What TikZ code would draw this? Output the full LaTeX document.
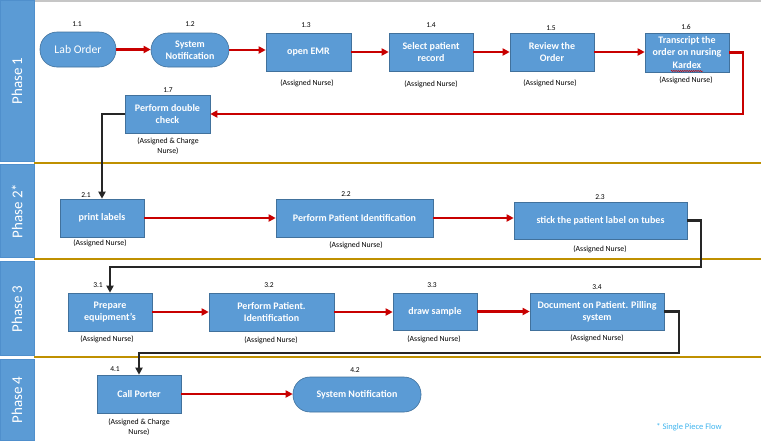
\documentclass[tikz,border=0pt]{standalone}
\usepackage{fontspec}
\setmainfont{Carlito}
\usetikzlibrary{arrows.meta,decorations.pathmorphing}
\definecolor{boxblue}{HTML}{5B9BD5}
\definecolor{boxedge}{HTML}{41719C}
\definecolor{hdredge}{HTML}{4F8FCC}
\definecolor{redline}{HTML}{C80000}
\definecolor{goldline}{HTML}{BF9000}
\definecolor{darkline}{HTML}{262626}
\definecolor{noteblue}{HTML}{3FB4EE}
\tikzset{
  procbox/.style={draw=boxedge, line width=0.6pt, fill=boxblue, text=white, align=center, inner sep=0pt,
    font=\bfseries\fontsize{10}{12}\selectfont},
  termbox/.style={procbox, rounded corners=17pt},
  numlbl/.style={font=\fontsize{7.5}{8}\selectfont, text=black, inner sep=0pt},
  rolelbl/.style={font=\fontsize{7.8}{10}\selectfont, text=black, align=center, inner sep=0pt},
  phasehdr/.style={fill=boxblue, draw=hdredge, line width=0.6pt},
  phasetxt/.style={rotate=90, text=white, font=\fontsize{15}{16}\selectfont, inner sep=0pt},
  lanesep/.style={draw=goldline, line width=2pt},
  redarr/.style={draw=redline, line width=2.2pt, -{Triangle[length=7pt,width=7pt]}},
  blkarr/.style={draw=darkline, line width=2.4pt, -{Triangle[length=7pt,width=7pt]}}
}
\begin{document}
\begin{tikzpicture}[x=1pt,y=-1pt]
\useasboundingbox (0,0) rectangle (761,440);
% lane headers
\draw[gray!45, line width=1.5pt] (34,0.75) -- (761,0.75);
\draw[phasehdr] (0,0) rectangle (34,161);
\draw[phasehdr] (0,164.5) rectangle (34,257.5);
\draw[phasehdr] (0,261) rectangle (34,355);
\draw[phasehdr] (0,359) rectangle (34,440);
\node[phasetxt] (p1) at (17,81) {Phase 1};
\node[phasetxt] (p2) at (17,211) {Phase 2*};
\node[phasetxt] (p3) at (17,309) {Phase 3};
\node[phasetxt] (p4) at (17,400) {Phase 4};
\draw[lanesep] (34,163) -- (761,163);
\draw[lanesep] (34,259) -- (761,259);
\draw[lanesep] (34,357) -- (761,357);

% Phase 1
\node[termbox, minimum width=76pt, minimum height=35pt, font=\fontsize{11.7}{13}\selectfont] (n11) at (78,49.5) {Lab Order};
\node[termbox, minimum width=78pt, minimum height=34pt] (n12) at (190,50) {System\\Notification};
\node[procbox, minimum width=85pt, minimum height=38pt] (n13) at (308.5,52) {open EMR};
\node[procbox, minimum width=84pt, minimum height=38pt] (n14) at (431,52) {Select patient\\record};
\node[procbox, minimum width=84pt, minimum height=38pt] (n15) at (552,52) {Review the\\Order};
\node[procbox, minimum width=84pt, minimum height=39pt, font=\bfseries\fontsize{10}{12.5}\selectfont] (n16) at (687,52.5) {Transcript the\\order on nursing\\Kardex};
\node[procbox, minimum width=85pt, minimum height=38pt] (n17) at (167.5,114) {Perform double\\check};
\node[numlbl] (l11) at (77,24) {1.1};
\node[numlbl] (l12) at (190,24) {1.2};
\node[numlbl] (l13) at (306,25) {1.3};
\node[numlbl] (l14) at (431,25) {1.4};
\node[numlbl] (l15) at (551,28) {1.5};
\node[numlbl] (l16) at (686,27) {1.6};
\node[numlbl] (l17) at (168,90) {1.7};
\node[rolelbl] (r13) at (307,83) {(Assigned Nurse)};
\node[rolelbl] (r14) at (431,84) {(Assigned Nurse)};
\node[rolelbl] (r15) at (550,83) {(Assigned Nurse)};
\node[rolelbl] (r16) at (686,80) {(Assigned Nurse)};
\node[rolelbl] (r17) at (168,146) {(Assigned \& Charge\\Nurse)};
\draw[redline, line width=0.5pt, decorate, decoration={snake, amplitude=0.6pt, segment length=2.2pt}] (671,71) -- (703,71);

% Phase 2
\node[procbox, minimum width=84pt, minimum height=38pt] (n21) at (102,218) {print labels};
\node[procbox, minimum width=157pt, minimum height=38pt] (n22) at (354.5,218) {Perform Patient Identification};
\node[procbox, minimum width=173pt, minimum height=37pt] (n23) at (600.5,220.5) {stick the patient label on tubes};
\node[numlbl] (l21) at (86,195) {2.1};
\node[numlbl] (l22) at (346,194) {2.2};
\node[numlbl] (l23) at (600,197) {2.3};
\node[rolelbl] (r21) at (100,243) {(Assigned Nurse)};
\node[rolelbl] (r22) at (356,245) {(Assigned Nurse)};
\node[rolelbl] (r23) at (600,249) {(Assigned Nurse)};

% Phase 3
\node[procbox, minimum width=84pt, minimum height=38pt] (n31) at (110,312) {Prepare\\equipment's};
\node[procbox, minimum width=125pt, minimum height=38pt] (n32) at (271.5,312) {Perform Patient.\\Identification};
\node[procbox, minimum width=84pt, minimum height=37pt] (n33) at (435,311.5) {draw sample};
\node[procbox, minimum width=134pt, minimum height=37pt] (n34) at (597,311.5) {Document on Patient. Pilling\\system};
\node[numlbl] (l31) at (98,285) {3.1};
\node[numlbl] (l32) at (269,285) {3.2};
\node[numlbl] (l33) at (432,285) {3.3};
\node[numlbl] (l34) at (597,287) {3.4};
\node[rolelbl] (r31) at (107,339) {(Assigned Nurse)};
\node[rolelbl] (r32) at (271,340) {(Assigned Nurse)};
\node[rolelbl] (r33) at (434,339) {(Assigned Nurse)};
\node[rolelbl] (r34) at (597,338) {(Assigned Nurse)};

% Phase 4
\node[procbox, minimum width=84pt, minimum height=38pt] (n41) at (139,394) {Call Porter};
\node[termbox, minimum width=128pt, minimum height=35pt] (n42) at (357,394.5) {System Notification};
\node[numlbl] (l41) at (115,369) {4.1};
\node[numlbl] (l42) at (355,370) {4.2};
\node[rolelbl] (r41) at (139,427) {(Assigned \& Charge\\Nurse)};
\node[font=\fontsize{8.5}{9}\selectfont, text=noteblue, inner sep=0pt] (note) at (689,427) {* Single Piece Flow};

% bend points
\coordinate (b1) at (743,114);
\coordinate (b2) at (701,267);
\coordinate (b3) at (679,353);

% red connectors
\draw[redarr] (n11.east) -- (n11.east -| n12.west);
\draw[redarr] (n12.east) -- (n12.east -| n13.west);
\draw[redarr] (n13.east) -- (n13.east -| n14.west);
\draw[redarr] (n14.east) -- (n14.east -| n15.west);
\draw[redarr] (n15.east) -- (n15.east -| n16.west);
\draw[redarr] (n16.east) -| (b1) -- (n17.east);
\draw[redarr] (n21.east) -- (n21.east -| n22.west);
\draw[redarr] (n22.east) -- (n22.east -| n23.west);
\draw[redarr] (n31.east) -- (n31.east -| n32.west);
\draw[redarr] (n32.east) -- (n32.east -| n33.west);
\draw[redarr] (n33.east) -- (n33.east -| n34.west);
\draw[redarr] (n41.east) -- (n41.east -| n42.west);

% black connectors
\draw[blkarr] (n17.west) -| (n21.north);
\draw[blkarr] (n23.east) -| (b2) -| (n31.north);
\draw[blkarr] (n34.east) -| (b3) -| (n41.north);
\end{tikzpicture}
\end{document}
